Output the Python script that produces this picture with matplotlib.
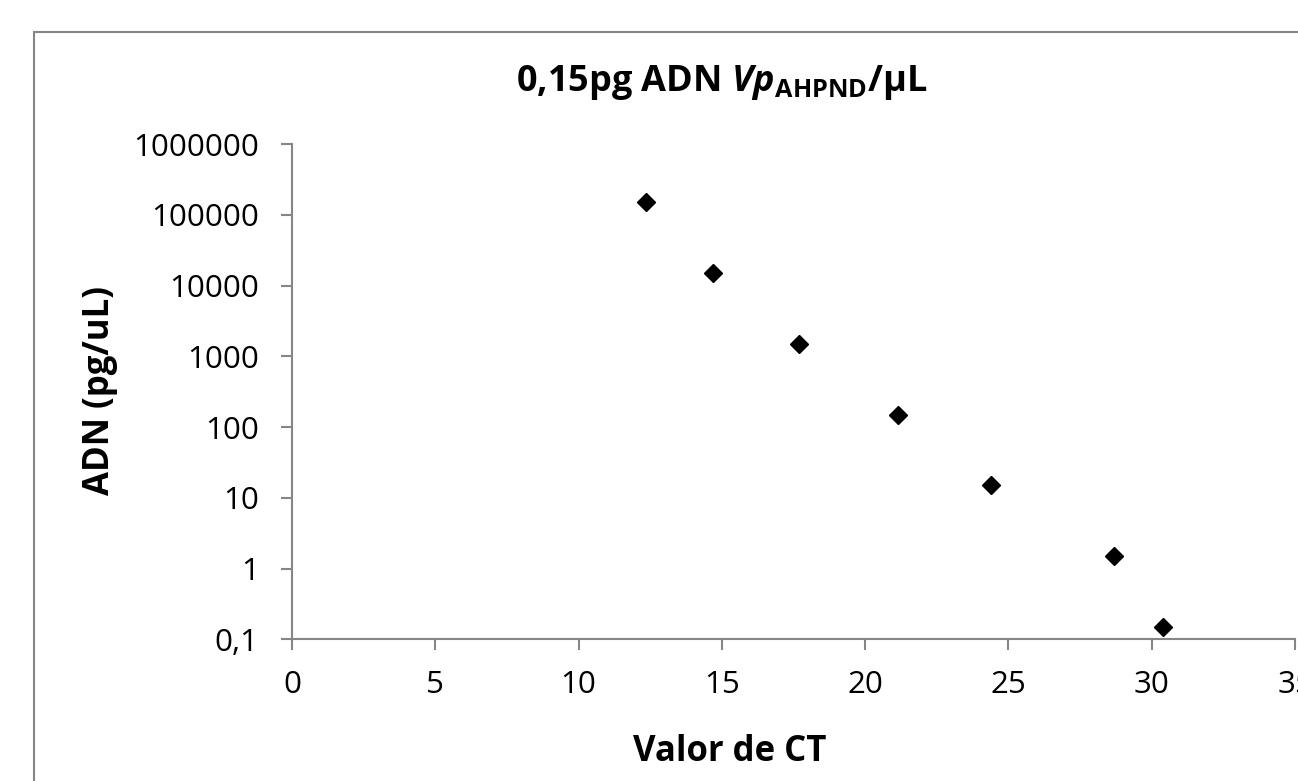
import matplotlib
matplotlib.use("Agg")
import matplotlib.pyplot as plt
from matplotlib.patches import Rectangle
from matplotlib.ticker import FixedLocator, FixedFormatter, NullLocator

# datos: valor de CT vs concentracion de ADN
ct_valores = [12.35, 14.7, 17.7, 21.15, 24.4, 28.7, 30.4]
adn_pg_ul = [150000, 15000, 1500, 150, 15, 1.5, 0.15]

y_ticks = [0.1, 1, 10, 100, 1000, 10000, 100000, 1000000]
y_labels = ["0,1", "1", "10", "100", "1000", "10000", "100000", "1000000"]
x_ticks = [0, 5, 10, 15, 20, 25, 30, 35]

fuente = "Open Sans"
plt.rcParams["font.family"] = [fuente, "DejaVu Sans"]
plt.rcParams["mathtext.fontset"] = "custom"
plt.rcParams["mathtext.rm"] = fuente
plt.rcParams["mathtext.bf"] = fuente + ":bold"
plt.rcParams["mathtext.bfit"] = fuente + ":bold:italic"

gris = "#868686"

fig = plt.figure(figsize=(12.98, 7.81), dpi=100)
# marco exterior del grafico (cortado a la derecha y abajo)
fig.patches.append(Rectangle((34 / 1298, -0.1), 2, 1 - 32 / 781 + 0.1,
                             transform=fig.transFigure, fill=False,
                             edgecolor=gris, linewidth=1.5))

ax = fig.add_axes([292 / 1298, 141.7 / 781, 1003 / 1298, 495.3 / 781])
ax.plot(ct_valores, adn_pg_ul, linestyle="none", marker="D",
        markersize=9.5, color="black")

ax.set_yscale("log")
ax.set_xlim(0, 35)
ax.set_ylim(0.1, 1000000)
ax.yaxis.set_major_locator(FixedLocator(y_ticks))
ax.yaxis.set_major_formatter(FixedFormatter(y_labels))
ax.yaxis.set_minor_locator(NullLocator())
ax.set_xticks(x_ticks)

for lado in ["top", "right"]:
    ax.spines[lado].set_visible(False)
for lado in ["left", "bottom"]:
    ax.spines[lado].set_color(gris)
    ax.spines[lado].set_linewidth(1.5)
ax.tick_params(axis="both", direction="out", length=8, width=1.5,
               color=gris, labelsize=22.5, labelcolor="black")
ax.tick_params(axis="y", pad=16)
ax.tick_params(axis="x", pad=14)

fig.text(722 / 1298, 1 - 83 / 781,
         r"0,15pg ADN $\mathbfit{Vp}_{\mathbf{AHPND}}$/µL",
         ha="center", va="center", fontsize=26, fontweight="bold")
fig.text(100 / 1298, 1 - 390 / 781, "ADN (pg/uL)", rotation=90,
         ha="center", va="center", fontsize=25, fontweight="bold")
fig.text(730 / 1298, 1 - 752 / 781, "Valor de CT",
         ha="center", va="center", fontsize=25, fontweight="bold")

fig.savefig("out.png", dpi=100)
